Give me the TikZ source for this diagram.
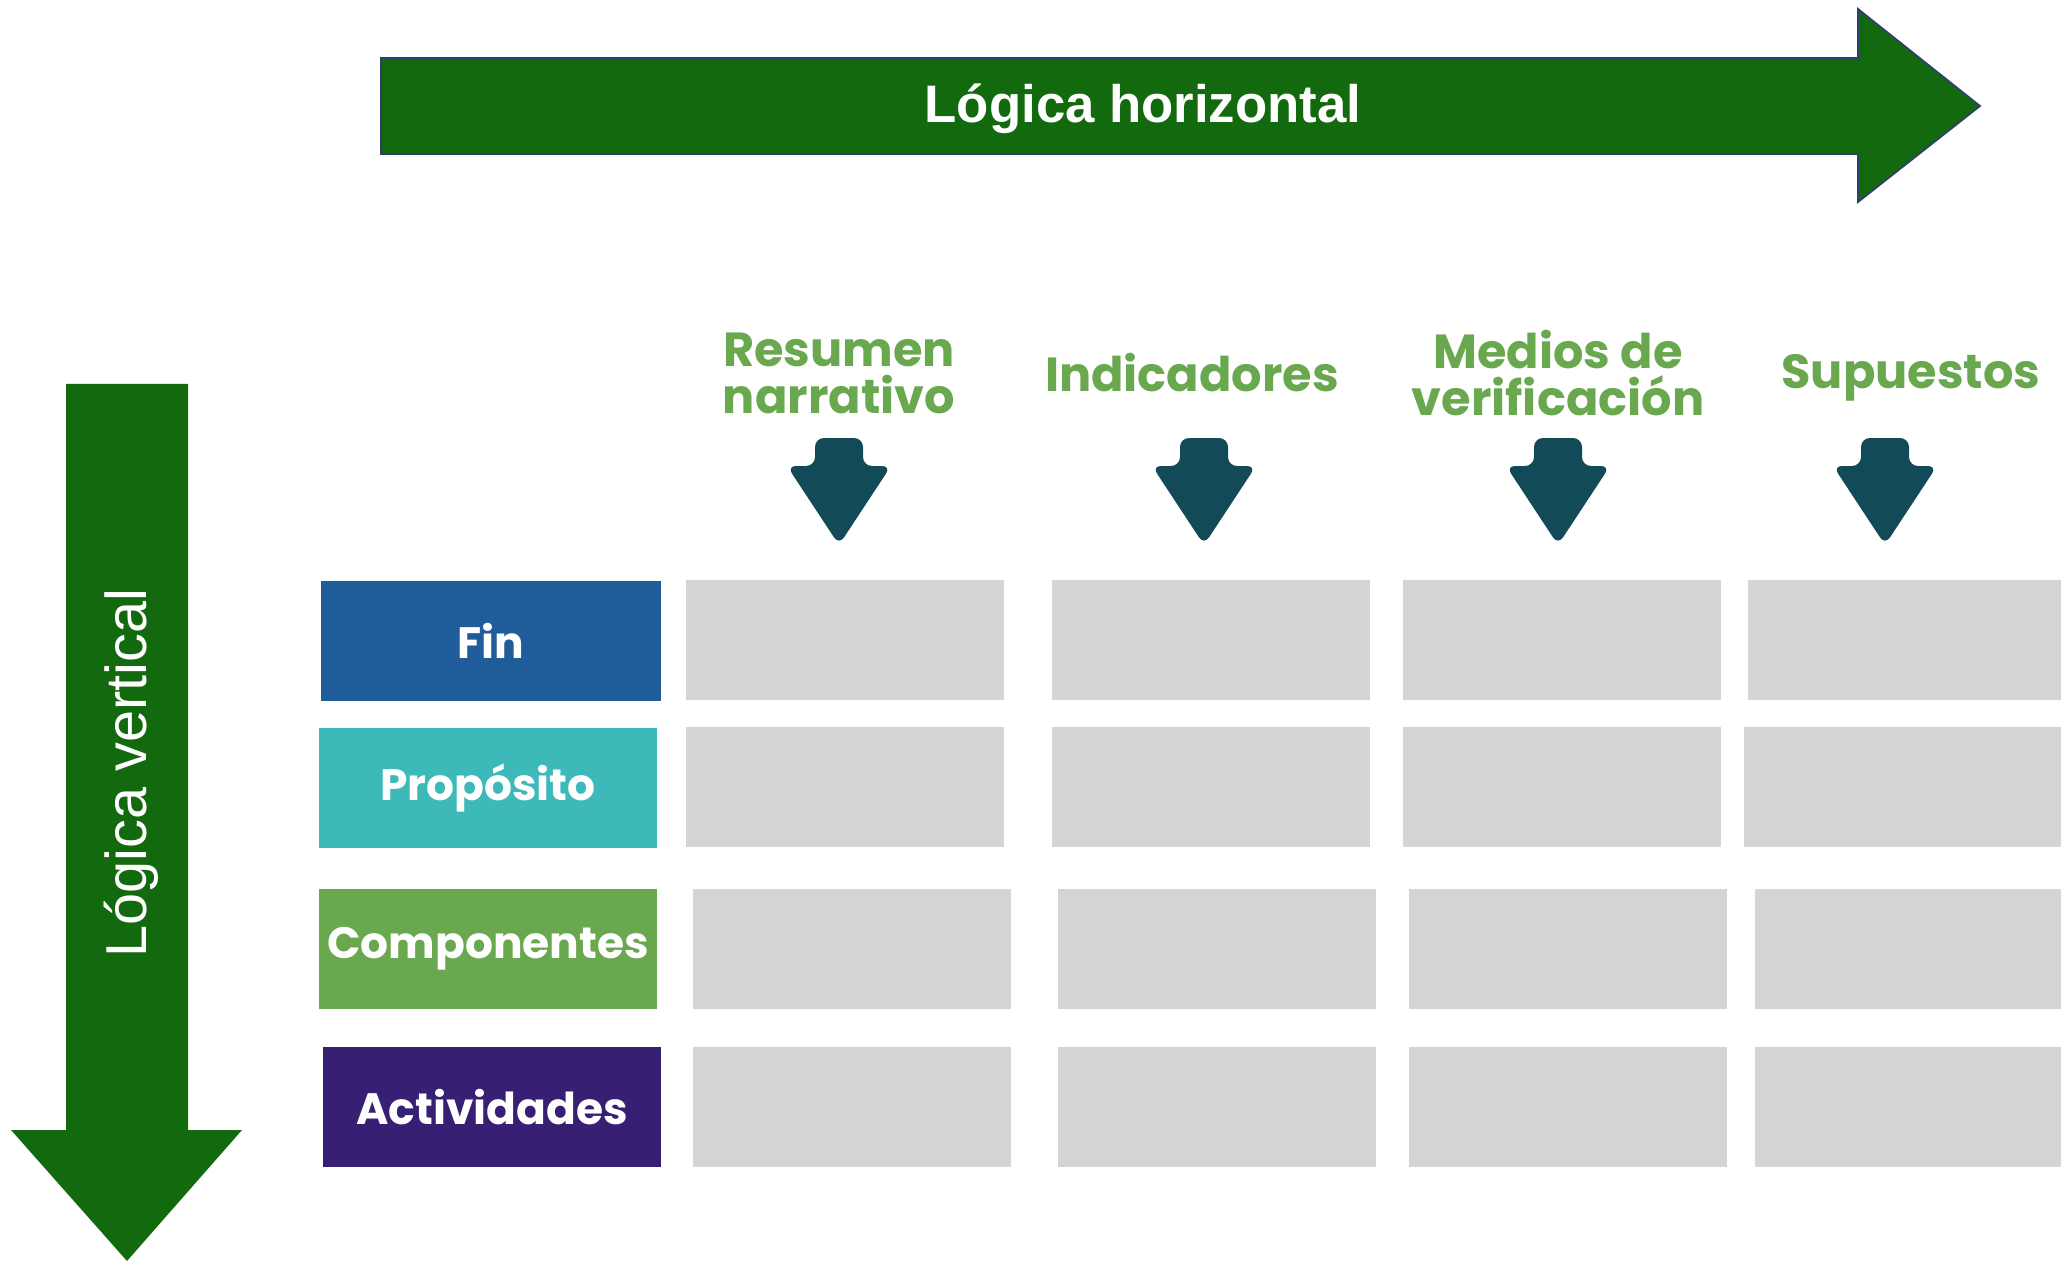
\documentclass[tikz,border=0pt]{standalone}
\usepackage{fontspec}
\usepackage{tikz}
\setmainfont{Liberation Sans}
\newfontfamily\hdfont{Poppins}
\definecolor{arrgreen}{RGB}{19,106,14}
\definecolor{arredge}{RGB}{47,62,110}
\definecolor{hdgreen}{RGB}{106,168,79}
\definecolor{colteal}{RGB}{18,75,87}
\definecolor{finblue}{RGB}{31,92,153}
\definecolor{propcyan}{RGB}{60,185,184}
\definecolor{compgreen}{RGB}{106,168,79}
\definecolor{actpurple}{RGB}{55,31,115}
\definecolor{cellgray}{RGB}{212,212,212}
\tikzstyle{rowlabel}=[minimum width=3.38cm,minimum height=1.19cm,inner sep=0pt,text=white,font=\hdfont\bfseries\fontsize{12.5}{14}\selectfont]
\tikzstyle{header}=[text=hdgreen,align=center,inner sep=0pt,font=\hdfont\bfseries\fontsize{13.6}{13.4}\selectfont]
\tikzstyle{cell}=[fill=cellgray,inner sep=0pt,minimum width=3.18cm,minimum height=1.19cm]
\newcommand{\colarrow}[1]{
  \fill[colteal, rounded corners=0.09cm] (#1,438) -- (#1+24,438) -- (#1+24,466) -- (#1+52,466)
    -- (#1,545) -- (#1-52,466) -- (#1-24,466) -- (#1-24,438) -- cycle;
}

\begin{document}
\begin{tikzpicture}[x=0.01cm,y=-0.01cm]
\useasboundingbox (0,0) rectangle (2061,1261);
\clip (0,0) rectangle (2061,1261);

  % big arrows
  \draw[arredge, fill=arrgreen, line width=0.5pt] (381,58) -- (1858,58) -- (1858,9) -- (1980,106)
    -- (1858,202) -- (1858,154) -- (381,154) -- cycle;
  \fill[arrgreen] (66,384) -- (188,384) -- (188,1130) -- (242,1130) -- (127,1261)
    -- (11,1130) -- (66,1130) -- cycle;
  \node[text=white, font=\bfseries\fontsize{15}{18}\selectfont] (lh) at (1143,109) {Lógica horizontal};
  \node[text=white, rotate=90, font=\fontsize{16.4}{19}\selectfont] (lv) at (131,773) {Lógica vertical};

  % column headers
  \node[header] (resumen) at (839,373) {Resumen\\narrativo};
  \node[header] (indic) at (1192,373) {Indicadores};
  \node[header] (medios) at (1558,373) {Medios de\\verificación};
  \node[header] (supu) at (1911,378) {Supuestos};

\colarrow{839};
\colarrow{1204};
\colarrow{1558};
\colarrow{1885};

  % row labels
  \node[rowlabel, fill=finblue, minimum width=3.4cm] (fin) at (491,641) {Fin};
  \node[rowlabel, fill=propcyan] (prop) at (488,788) {Propósito};
  \node[rowlabel, fill=compgreen] (comp) at (488,949) {Componentes};
  \node[rowlabel, fill=actpurple] (act) at (492,1107) {Actividades};

  % cells
  \foreach \x/\n in {845/1, 1211/2, 1562/3, 1907/4}
    \node[cell] (ca\n) at (\x,640) {};
  \foreach \x/\n in {845/1, 1211/2, 1562/3, 1903/4}
    \node[cell] (cb\n) at (\x,787) {};
  \foreach \x/\n in {852/1, 1217/2, 1568/3, 1914/4}
    \node[cell] (cc\n) at (\x,949) {};
  \foreach \x/\n in {852/1, 1217/2, 1568/3, 1914/4}
    \node[cell] (cd\n) at (\x,1107) {};

\end{tikzpicture}
\end{document}
